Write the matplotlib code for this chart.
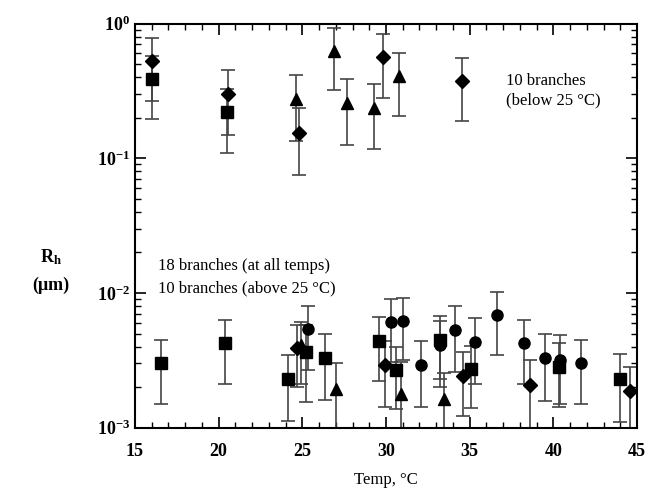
import math
import matplotlib
matplotlib.use("Agg")
import matplotlib.pyplot as plt
from matplotlib.ticker import FixedLocator, FuncFormatter, LogLocator, NullFormatter

plt.rcParams["font.family"] = ["Liberation Serif", "DejaVu Serif"]
plt.rcParams["mathtext.fontset"] = "custom"
plt.rcParams["mathtext.rm"] = "Liberation Serif"
plt.rcParams["mathtext.bf"] = "Liberation Serif:bold"

# diamonds
dia_t = [16.0, 20.55, 24.8, 29.85, 34.55, 24.7, 29.95, 34.6, 38.6, 44.6]
dia_r = [0.525, 0.299, 0.155, 0.56, 0.373, 0.0039, 0.0029, 0.00242, 0.00207, 0.00188]
dia_e = [0.26, 0.15, 0.08, 0.28, 0.185, 0.0019, 0.00147, 0.0012, 0.0011, 0.00095]

# squares
sq_t = [16.0, 20.5, 16.55, 20.4, 24.15, 25.25, 26.35, 29.6, 30.6, 33.2, 35.1, 40.35, 44.0]
sq_r = [0.386, 0.219, 0.0030, 0.00423, 0.0023, 0.00366, 0.0033, 0.00442, 0.00268,
        0.0045, 0.00271, 0.00283, 0.0023]
sq_e = [0.19, 0.11, 0.0015, 0.0021, 0.00117, 0.0021, 0.0017, 0.0022, 0.0013,
        0.0022, 0.0013, 0.0014, 0.0012]

# triangles
tri_t = [24.65, 26.9, 27.65, 29.3, 30.8, 24.9, 27.0, 30.9, 33.45]
tri_r = [0.274, 0.623, 0.255, 0.238, 0.406, 0.0041, 0.00193, 0.00177, 0.00163]
tri_e = [0.14, 0.3, 0.13, 0.12, 0.2, 0.002, 0.0011, 0.0013, 0.0009]

# circles
cir_t = [25.35, 30.3, 31.0, 32.1, 33.2, 34.15, 35.3, 36.65, 38.25, 39.5, 40.4, 41.65]
cir_r = [0.00537, 0.0061, 0.0062, 0.00292, 0.0041, 0.0053, 0.0043, 0.00686,
         0.00423, 0.00327, 0.0032, 0.00301]
cir_e = [0.0027, 0.003, 0.003, 0.0015, 0.0021, 0.0027, 0.0022, 0.0034,
         0.0021, 0.0017, 0.0017, 0.0015]

fig = plt.figure(figsize=(6.52, 4.90), dpi=100)
ax = fig.add_axes([0.207, 0.127, 0.770, 0.825])

series = [
    (dia_t, dia_r, dia_e, "D", 7),
    (sq_t, sq_r, sq_e, "s", 8),
    (tri_t, tri_r, tri_e, "^", 8),
    (cir_t, cir_r, cir_e, "o", 8),
]
for t, r, e, m, ms in series:
    ax.errorbar(t, r, yerr=e, fmt=m, ms=ms, color="black", ecolor="#444444",
                elinewidth=1.2, capsize=5, capthick=1.2)

ax.set_yscale("log")
ax.set_xlim(15, 45)
ax.set_ylim(1e-3, 1)

ax.xaxis.set_major_locator(FixedLocator([15, 20, 25, 30, 35, 40, 45]))
ax.xaxis.set_minor_locator(FixedLocator(range(15, 46)))
ax.yaxis.set_major_locator(FixedLocator([1e-3, 1e-2, 1e-1, 1]))
ax.yaxis.set_minor_locator(LogLocator(base=10, subs=range(2, 10)))
ax.yaxis.set_minor_formatter(NullFormatter())
ax.yaxis.set_major_formatter(FuncFormatter(
    lambda v, p: r"$\mathbf{10^{%d}}$" % round(math.log10(v))))
ax.tick_params(which="both", direction="in", top=True, right=True)
ax.tick_params(which="major", length=8, width=1.2, labelsize=13)
ax.tick_params(which="minor", length=4, width=1)
for lab in ax.get_xticklabels():
    lab.set_fontweight("bold")
ax.tick_params(axis="x", pad=11)
for s in ax.spines.values():
    s.set_linewidth(1.5)

ax.set_xlabel("Temp, °C", fontsize=12)
ax.xaxis.set_label_coords(0.5, -0.11)

fig.text(0.078, 0.465, r"$\mathbf{R_h}$", fontsize=13, ha="center")
fig.text(0.078, 0.408, "(μm)", fontsize=13, ha="center", fontweight="bold")

ax.text(0.74, 0.833, "10 branches\n(below 25 °C)", transform=ax.transAxes,
        fontsize=12, va="center", linespacing=1.3)
ax.text(0.045, 0.372, "18 branches (at all temps)\n10 branches (above 25 °C)",
        transform=ax.transAxes, fontsize=12, va="center", linespacing=1.5)

fig.savefig("out.png", dpi=100)
